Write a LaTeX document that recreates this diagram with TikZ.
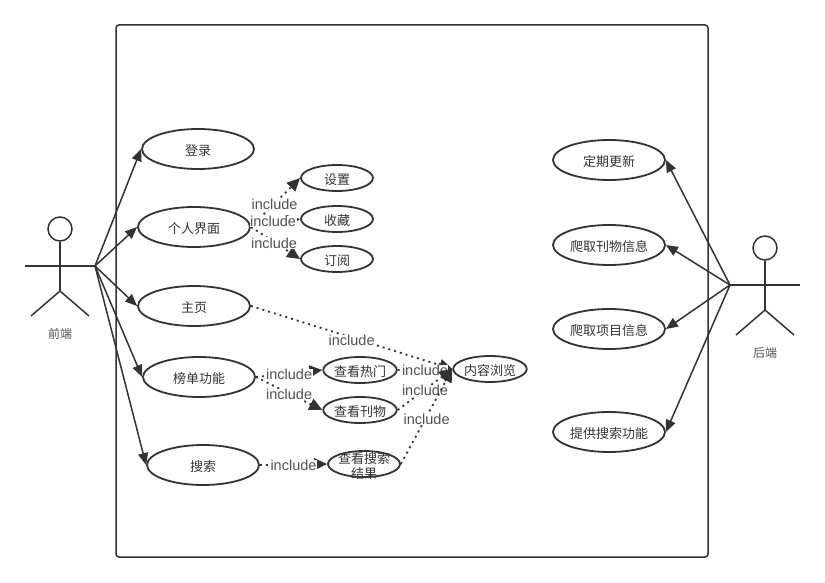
\documentclass[tikz,border=0pt]{standalone}
\usepackage{fontspec}
\setmainfont{Liberation Sans}
\newfontfamily\cjk{Noto Sans CJK SC}
\usepackage{xcolor}
\usetikzlibrary{shapes,arrows.meta,positioning}
\definecolor{ink}{HTML}{333333}
\tikzset{
    bigcase/.style={ellipse, draw=ink, line width=1.8pt, fill=white, minimum width=112pt, minimum height=40pt, inner sep=0pt, text=ink, text height=13pt, text depth=0pt, font=\cjk\fontsize{13}{15}\selectfont},
    smallcase/.style={bigcase, minimum width=72pt, minimum height=26pt},
    usearrow/.style={draw=ink, line width=1.5pt, -{Triangle[length=12pt,width=10pt]}},
    incarrow/.style={draw=ink, line width=1.8pt, dash pattern=on 2pt off 4pt, -{Triangle[length=13pt,width=12pt,sep=0pt]}},
    inclabel/.style={fill=white, inner sep=0.5pt, text=ink!85, font=\fontsize{14.5}{15}\selectfont},
    stick/.style={draw=ink, line width=1.5pt},
    actorname/.style={text=ink!85, font=\cjk\fontsize{12}{13}\selectfont}
}
\begin{document}
\begin{tikzpicture}[x=1pt, y=-1pt]
    \useasboundingbox (0, 0) rectangle (825, 583);

    % System boundary
    \draw[ink, line width=1.5pt, rounded corners=3pt] (116, 25) rectangle (708, 557);

    % Use cases (left)
    \node[bigcase] (login) at (198, 149) {登录};
    \node[bigcase] (profile) at (194, 227) {个人界面};
    \node[bigcase] (home) at (194, 306) {主页};
    \node[bigcase] (ranking) at (199, 377) {榜单功能};
    \node[bigcase] (search) at (203, 465) {搜索};

    % Use cases (middle)
    \node[smallcase] (settings) at (337, 178) {设置};
    \node[smallcase] (favorites) at (337, 219) {收藏};
    \node[smallcase] (subscribe) at (337, 259) {订阅};
    \node[smallcase] (hot) at (360, 370) {查看热门};
    \node[smallcase] (journal) at (360, 410) {查看刊物};
    \node[smallcase, text height=0pt] (result) at (364, 464) {\makebox[0pt]{\smash{\raisebox{-7pt}{\begin{tabular}{@{}c@{}}查看搜索\\结果\end{tabular}}}}};
    \node[smallcase] (browse) at (490, 369) {内容浏览};

    % Use cases (right)
    \node[bigcase] (update) at (609, 160) {定期更新};
    \node[bigcase] (crawljournal) at (609, 245) {爬取刊物信息};
    \node[bigcase] (crawlproject) at (609, 329) {爬取项目信息};
    \node[bigcase] (provide) at (609, 432) {提供搜索功能};

    % Front-end actor
    \node[circle, stick, minimum size=24pt, inner sep=0pt] (headA) at (60, 229) {};
    \coordinate (handA) at (95, 266);
    \coordinate (handAL) at (25, 266);
    \coordinate (hipA) at (60, 291);
    \coordinate (footAL) at (31, 316);
    \coordinate (footAR) at (89, 316);
    \draw[stick] (headA) -- (hipA);
    \draw[stick] (handAL) -- (handA);
    \draw[stick] (footAL) -- (hipA) -- (footAR);
    \node[actorname] (nameA) at (60, 334) {前端};

    % Back-end actor
    \node[circle, stick, minimum size=24pt, inner sep=0pt] (headB) at (765, 248) {};
    \coordinate (handB) at (730, 285);
    \coordinate (handBR) at (800, 285);
    \coordinate (hipB) at (765, 310);
    \coordinate (footBL) at (736, 335);
    \coordinate (footBR) at (794, 335);
    \draw[stick] (headB) -- (hipB);
    \draw[stick] (handB) -- (handBR);
    \draw[stick] (footBL) -- (hipB) -- (footBR);
    \node[actorname] (nameB) at (765, 353) {后端};

    % Actor connections
    \foreach \target in {login, profile, home, ranking, search} {
        \draw[usearrow] (handA) -- (\target.west);
    }
    \foreach \target in {update, crawljournal, crawlproject, provide} {
        \draw[usearrow] (handB) -- (\target.east);
    }

    % Include connections
    \draw[incarrow] (profile.east) -- node[inclabel, pos=0.48, yshift=-1pt] (incA) {include} (settings.west);
    \draw[incarrow] (profile.east) -- node[inclabel, pos=0.47, yshift=-1pt] (incC) {include} (subscribe.west);
    \draw[incarrow] (profile.east) -- node[inclabel, pos=0.45, yshift=2pt] (incB) {include} (favorites.west);
    \draw[incarrow] (home.east) -- node[inclabel, pos=0.5, yshift=-3pt] (incD) {include} (browse.west);
    \draw[incarrow] (ranking.east) -- node[inclabel, yshift=-1pt] (incE) {include} (hot.west);
    \draw[incarrow] (ranking.east) -- node[inclabel, yshift=-1pt] (incF) {include} (journal.west);
    \draw[incarrow] (search.east) -- node[inclabel, yshift=-1pt] (incG) {include} (result.west);
    \draw[incarrow] (hot.east) -- node[inclabel, yshift=-1pt] (incH) {include} (browse.west);
    \draw[incarrow] (journal.east) -- node[inclabel, yshift=-1pt] (incI) {include} (browse.west);
    \draw[incarrow] (result.east) -- node[inclabel, pos=0.5, yshift=-3pt] (incJ) {include} (browse.west);

\end{tikzpicture}
\end{document}
